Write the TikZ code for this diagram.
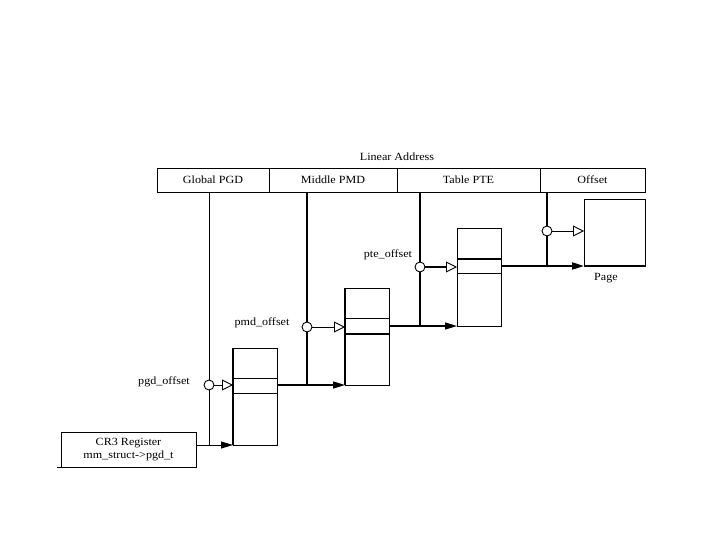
\documentclass[tikz,border=0pt]{standalone}
\usepackage{fontspec}
\setmainfont[FakeStretch=1.1]{Liberation Serif}
\usetikzlibrary{arrows.meta}
\begin{document}
\begin{tikzpicture}[x=1pt,y=-1pt,
  thinl/.style={line width=0.9pt},
  thickl/.style={line width=2pt},
  seg/.style={draw, line width=0.9pt, minimum height=24pt, inner sep=0pt, outer sep=0pt, anchor=north west, font=\fontsize{11}{12}\selectfont},
  tab/.style={draw, line width=0.9pt, inner sep=0pt, outer sep=0pt, anchor=north west, minimum width=44pt},
  ring/.style={circle, draw, line width=0.9pt, fill=white, minimum size=10pt, inner sep=0pt, outer sep=0pt},
  lbl/.style={font=\fontsize{11}{12}\selectfont, inner sep=0pt},
  hollow/.style={-{Triangle[open, length=11pt, width=11pt, line width=0.9pt]}},
  solid/.style={-{Triangle[length=12pt, width=7pt]}}
]
\useasboundingbox (0,0) rectangle (720,540);

% Linear address bar
\node[lbl] (la) at (397,157) {Linear Address};
\node[seg, minimum width=112pt] (sgpgd) at (157,168) {Global PGD};
\node[seg, minimum width=128pt] (sgpmd) at (269,168) {Middle PMD};
\node[seg, minimum width=143pt] (sgpte) at (397,168) {Table PTE};
\node[seg, minimum width=105pt] (sgoff) at (540,168) {Offset};

% Tables
\node[tab, minimum height=97pt] (pgdtab) at (233,348) {};
\node[tab, minimum height=97pt] (pmdtab) at (345,288) {};
\node[tab, minimum height=98pt] (ptetab) at (457,228) {};
\node[tab, minimum width=61pt, minimum height=67pt] (page) at (584,199) {};

% Row lines
\draw[thinl] (233,378) -- (277,378);
\draw[thinl] (233,393) -- (277,393);
\draw[thinl] (345,318) -- (389,318);
\draw[thickl] (345,334) -- (389,334);
\draw[thickl] (457,259) -- (501,259);
\draw[thinl] (457,273) -- (501,273);

% Thick left edges
\draw[thickl] (pgdtab.north west) -- (pgdtab.south west);
\draw[thickl] (pmdtab.north west) -- (pmdtab.south west);
\draw[thickl] (page.south west) -- (page.south east);

% CR3 register
\node[draw, line width=0.9pt, minimum width=135pt, minimum height=35pt, inner sep=0pt, outer sep=0pt, anchor=north west, align=center, font=\fontsize{11}{13.5}\selectfont] (cr3) at (61,432) {CR3 Register\\mm\_struct->pgd\_t};
\coordinate (tick) at (57,467);
\draw[thinl] (tick) -- (cr3.south west);

% Circles
\node[ring] (c1) at (209,385) {};
\node[ring] (c2) at (307,327) {};
\node[ring] (c3) at (420,267) {};
\node[ring] (c4) at (547,231) {};

% Offset labels
\node[lbl] (l1) at (164,382) {pgd\_offset};
\node[lbl] (l2) at (262,323) {pmd\_offset};
\node[lbl] (l3) at (388,255) {pte\_offset};
\node[lbl] (lp) at (606,278) {Page};

% PGD column
\draw[thinl] (c1 |- sgpgd.south) -- (c1.north);
\draw[thinl] (c1.south) -- (c1 |- pgdtab.south);
\draw[thinl, hollow] (c1.east) -- (pgdtab.west |- c1);
\draw[thinl, solid] (cr3.east |- pgdtab.south) -- (pgdtab.south west);

% PMD column
\draw[thickl] (c2 |- sgpmd.south) -- (c2.north);
\draw[thickl] (c2.south) -- (c2 |- pmdtab.south);
\draw[thinl, hollow] (c2.east) -- (pmdtab.west |- c2);
\draw[line width=1.4pt, solid] (pgdtab.east |- pmdtab.south) -- (pmdtab.south west);

% PTE column
\draw[thickl] (c3 |- sgpte.south) -- (c3.north);
\draw[thickl] (c3.south) -- (c3 |- ptetab.south);
\draw[thickl, shorten >=10pt] (c3.east) -- (ptetab.west |- c3);
\draw[thinl, hollow] ([xshift=-12pt]ptetab.west |- c3) -- (ptetab.west |- c3);
\draw[line width=1.4pt, solid] (pmdtab.east |- ptetab.south) -- (ptetab.south west);

% Offset column
\draw[thickl] (c4 |- sgoff.south) -- (c4.north);
\draw[thickl] (c4.south) -- (c4 |- page.south);
\draw[thinl, hollow] (c4.east) -- (page.west |- c4);
\draw[thickl, solid] (ptetab.east |- page.south) -- (page.south west);
\end{tikzpicture}
\end{document}
